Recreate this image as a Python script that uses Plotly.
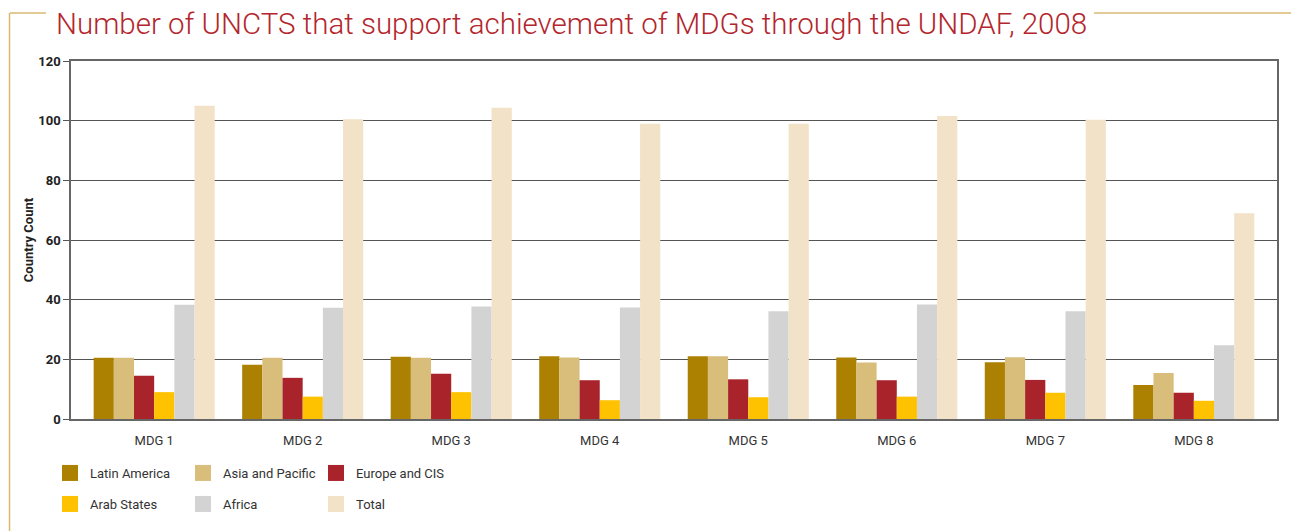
import plotly.graph_objects as go

categories = ["MDG 1", "MDG 2", "MDG 3", "MDG 4", "MDG 5", "MDG 6", "MDG 7", "MDG 8"]

latin_america = [20.5, 18.2, 20.9, 21.0, 21.0, 20.6, 19.0, 11.4]
asia_pacific = [20.5, 20.5, 20.5, 20.6, 21.0, 18.9, 20.7, 15.4]
europe_cis = [14.5, 13.8, 15.2, 13.0, 13.3, 13.0, 13.1, 8.8]
arab_states = [9.0, 7.5, 9.0, 6.3, 7.3, 7.5, 8.8, 6.1]
africa = [38.3, 37.3, 37.7, 37.4, 36.1, 38.4, 36.1, 24.7]
total = [105.0, 100.5, 104.3, 99.0, 99.0, 101.6, 100.3, 69.0]

series = [
    ("Latin America", latin_america, "#ac8000", "legend"),
    ("Asia and Pacific", asia_pacific, "#d8bd7b", "legend"),
    ("Europe and CIS", europe_cis, "#a8232a", "legend"),
    ("Arab States", arab_states, "#fec200", "legend2"),
    ("Africa", africa, "#d3d3d3", "legend2"),
    ("Total", total, "#f2e2c7", "legend2"),
]

FONT = "Roboto, Liberation Sans, sans-serif"
TAN = "#d9b870"

# the page adds an 8px body margin, so the figure is drawn 8px smaller
# and all page-pixel positions are shifted by OFF
OFF = 8
W, H = 1299 - OFF, 531 - OFF
ML, MR, MT, MB = 71 - OFF, 22, 61 - OFF, 112
PW, PH = W - ML - MR, H - MT - MB


def px(xp):
    return (xp - OFF - ML) / PW


def py(yp):
    return (H - MB - (yp - OFF)) / PH


fig = go.Figure()
for name, vals, color, leg in series:
    fig.add_trace(go.Bar(
        x=categories, y=vals, name=name,
        marker=dict(color=color, line=dict(width=0)),
        showlegend=False,
    ))
    # legend-only entry with a bigger square swatch
    fig.add_trace(go.Scatter(
        x=[None], y=[None], mode="markers", name=name,
        marker=dict(symbol="square", size=16, color=color),
        legend=leg, hoverinfo="skip",
    ))

legend_common = dict(
    orientation="h", xanchor="left", yanchor="top", x=px(50),
    entrywidth=88, entrywidthmode="pixels", itemsizing="trace",
    font=dict(family=FONT, size=13, color="#333"),
    bgcolor="rgba(0,0,0,0)", itemclick=False, tracegroupgap=0,
)

fig.update_layout(
    barmode="group", bargap=0.185, bargroupgap=0,
    width=W, height=H,
    paper_bgcolor="white", plot_bgcolor="white",
    margin=dict(l=ML, r=MR, t=MT, b=MB, autoexpand=False),
    font=dict(family=FONT, color="#333"),
    showlegend=True,
    legend=dict(y=py(458), **legend_common),
    legend2=dict(y=py(489), **legend_common),
    annotations=[dict(
        xref="paper", yref="paper", x=px(571), y=py(8), yshift=3,
        xanchor="center", yanchor="top", showarrow=False,
        text="Number of UNCTS that support achievement of MDGs through the UNDAF, 2008",
        font=dict(family=FONT, size=29.5, color="#b3262d", weight=300),
    )],
)

# decorative tan frame around the title
for x0, x1 in [(10, 46), (1094, 1299)]:
    fig.add_shape(type="line", xref="paper", yref="paper",
                  x0=px(x0), x1=px(x1), y0=py(13), y1=py(13),
                  line=dict(color=TAN, width=1.5))
fig.add_shape(type="line", xref="paper", yref="paper",
              x0=px(9.5), x1=px(9.5), y0=py(13), y1=py(531),
              line=dict(color=TAN, width=1.5))

fig.update_xaxes(
    range=[-0.56, 7.56], showline=True, linecolor="#666", linewidth=1.5,
    mirror=True, ticks="outside", ticklen=9, tickcolor="rgba(0,0,0,0)",
    showgrid=False,
    tickfont=dict(family=FONT, size=13, color="#333"),
)
fig.update_yaxes(
    range=[0, 120], dtick=20, showline=True, linecolor="#666", linewidth=1.5,
    mirror=True, ticks="outside", ticklen=6, tickcolor="#555",
    showgrid=True, gridcolor="#555", gridwidth=1.2, zeroline=False,
    tickfont=dict(family=FONT, size=13, color="#222", weight="bold"),
    title=dict(text="<b>Country Count</b>", standoff=2,
               font=dict(family=FONT, size=13, color="#222")),
)

fig.write_html("out.html")
